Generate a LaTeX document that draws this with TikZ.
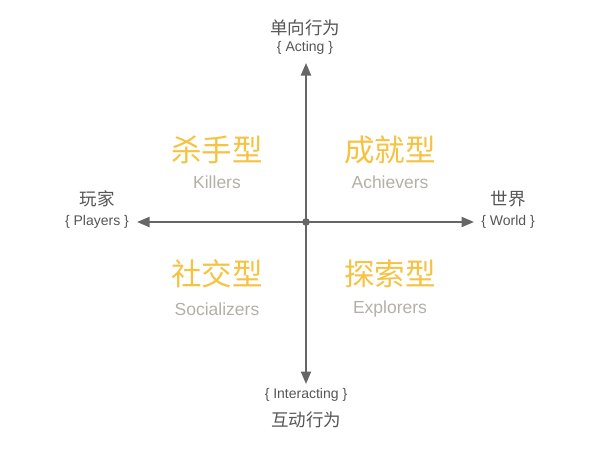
\documentclass[tikz,border=0pt]{standalone}
\usepackage{fontspec}
\setmainfont{Liberation Sans}
\newfontfamily\cjk{Noto Sans CJK SC}
\usepackage{xcolor}
\usetikzlibrary{arrows.meta, positioning}
\definecolor{axisgray}{HTML}{666666}
\definecolor{textgray}{HTML}{555555}
\definecolor{typeyellow}{HTML}{F5C241}
\definecolor{subgray}{HTML}{B3B0A8}
\tikzset{
  axis/.style={draw=axisgray, line width=2pt,
               -{Triangle[length=12.5pt, width=10pt]}},
  axname/.style={text=textgray, font=\cjk\fontsize{17.5}{20}\selectfont,
                 inner sep=0pt, anchor=center},
  axsub/.style={text=textgray, font=\fontsize{14}{16}\selectfont,
                inner sep=0pt, anchor=center},
  typ/.style={text=typeyellow, font=\cjk\fontsize{30.5}{33}\selectfont,
              inner sep=0pt, anchor=center},
  typsub/.style={text=subgray, font=\fontsize{17.5}{20}\selectfont,
                 inner sep=0pt, anchor=center},
}
\begin{document}
\begin{tikzpicture}[x=1pt, y=-1pt]
  \useasboundingbox (0,0) rectangle (600,451);
  % axes
  \coordinate (o)     at (306,222);
  \coordinate (up)    at (306,63);
  \coordinate (down)  at (306,384);
  \coordinate (left)  at (137,222);
  \coordinate (right) at (474,222);
  \draw[axis] (o) -- (up);
  \draw[axis] (o) -- (down);
  \draw[axis] (o) -- (left);
  \draw[axis] (o) -- (right);
  \fill[axisgray] (o) circle (3.8pt);
  % axis labels
  \node[axname] (acting)  at (305,28)  {单向行为};
  \node[axsub]  (actingE) at (305,48)  {\{ Acting \}};
  \node[axsub]  (interE)  at (306,395) {\{ Interacting \}};
  \node[axname] (inter)   at (306,420) {互动行为};
  \node[axname] (player)  at (97,199)  {玩家};
  \node[axsub]  (playerE) at (97,222)  {\{ Players \}};
  \node[axname] (world)   at (508,199) {世界};
  \node[axsub]  (worldE)  at (508,222) {\{ World \}};
  % quadrants
  \node[typ]    (kill)  at (217,150) {杀手型};
  \node[typsub] (killE) at (217,182) {Killers};
  \node[typ]    (ach)   at (390,150) {成就型};
  \node[typsub] (achE)  at (390,182) {Achievers};
  \node[typ]    (soc)   at (217,274) {社交型};
  \node[typsub] (socE)  at (217,309) {Socializers};
  \node[typ]    (exp)   at (390,274) {探索型};
  \node[typsub] (expE)  at (390,309) {Explorers};
\end{tikzpicture}
\end{document}
